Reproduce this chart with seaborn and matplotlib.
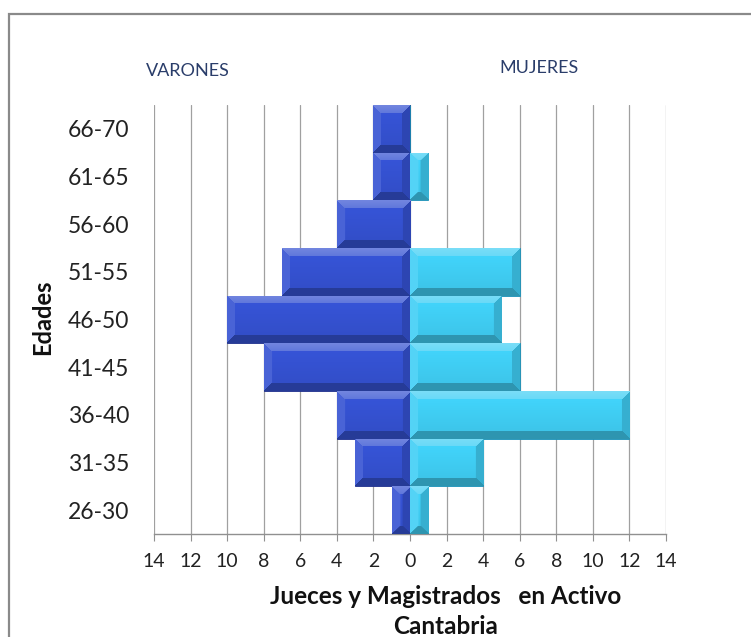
import numpy as np
import pandas as pd
import matplotlib
matplotlib.use("Agg")

import matplotlib.pyplot as plt
import seaborn as sns
from matplotlib.colors import to_rgb
from matplotlib.patches import Rectangle

# Data
edades = ["66-70", "61-65", "56-60", "51-55", "46-50", "41-45", "36-40", "31-35", "26-30"]
varones = [2, 2, 4, 7, 10, 8, 4, 3, 1]
mujeres = [0, 1, 0, 6, 5, 6, 12, 4, 1]
ticks = list(range(-14, 15, 2))

df = pd.DataFrame({"edad": edades, "varones": varones, "mujeres": mujeres})
df["varones_neg"] = -df["varones"]

sns.set_theme(style="white")
plt.rcParams["font.family"] = ["Lato", "DejaVu Sans"]

fig = plt.figure(figsize=(7.51, 6.37), dpi=100)
ax = fig.add_axes([154 / 751, 1 - 534 / 637, 512 / 751, 429 / 637])

sns.barplot(data=df, x="varones_neg", y="edad", orient="h", width=1.0, saturation=1,
            color="#3552d2", edgecolor="#1e2f88", linewidth=0.6, ax=ax, zorder=3)
sns.barplot(data=df, x="mujeres", y="edad", orient="h", width=1.0, saturation=1,
            color="#40cff5", edgecolor="#1a8db3", linewidth=0.6, ax=ax, zorder=3)


def bevel(color, wpx, hpx, b=8):
    base = np.array(to_rgb(color))
    light = base + (1 - base) * 0.30
    dark = base * 0.72
    yy, xx = np.mgrid[0:hpx, 0:wpx]
    img = np.tile(base, (hpx, wpx, 1))
    # soft vertical shading in the face
    shade = 1.04 - 0.10 * (yy / max(hpx - 1, 1))
    img = img * shade[..., None]
    dt, db, dl, dr = yy, hpx - 1 - yy, xx, wpx - 1 - xx
    top = (dt < b) & (dt <= dl) & (dt <= dr)
    bot = (db < b) & (db <= dl) & (db <= dr)
    left = (dl < b) & ~top & ~bot & (dl <= dr)
    right = (dr < b) & ~top & ~bot & (dr < dl)
    tfrac = (dt / b)[..., None]
    img = np.where(top[..., None], light * (1 - 0.3 * tfrac) + base * 0.3 * tfrac, img)
    img = np.where(bot[..., None], dark, img)
    img[left] = base + (1 - base) * 0.10
    img[right] = base * 0.85
    return np.clip(img, 0, 1)


px_per_unit = 512 / 28
for p in list(ax.patches):
    w = p.get_width()
    if w == 0:
        continue
    x0 = p.get_x()
    y0 = p.get_y()
    h = p.get_height()
    col = p.get_facecolor()[:3]
    wpx = max(int(round(abs(w) * px_per_unit)), 2)
    hpx = int(round(h * 429 / 9))
    img = bevel(col, wpx, hpx)
    xl, xr = min(x0, x0 + w), max(x0, x0 + w)
    im = ax.imshow(img, extent=(xl, xr, y0 + h, y0), aspect="auto",
                   interpolation="bilinear", zorder=3.5)
    im.set_clip_path(p)

ax.set_xlim(-14, 14)
ax.set_ylim(8.5, -0.5)

ax.set_xticks(ticks)
ax.set_xticklabels([str(abs(t)) for t in ticks], fontsize=14, color="#222222")
ax.tick_params(axis="x", length=5, width=0.8, color="#909090", direction="out", pad=9, bottom=True)
ax.tick_params(axis="y", length=0, labelsize=16.5, pad=18, labelcolor="#222222")

for t in ticks:
    ax.axvline(t, color="#a0a0a0", lw=0.9, zorder=1)

for s in ["top", "right", "left"]:
    ax.spines[s].set_visible(False)
ax.spines["bottom"].set_color("#909090")
ax.spines["bottom"].set_linewidth(1.0)

ax.set_xlabel("")
ax.set_ylabel("")

fig.text(43 / 751, 1 - 317 / 637, "Edades", rotation=90, ha="center", va="center",
         fontsize=17, fontweight="bold", color="#111111")

fig.text(446 / 751, 1 - 597 / 637, "Jueces y Magistrados   en Activo",
         ha="center", va="center", fontsize=17.5, fontweight="bold", color="#111111")
fig.text(446 / 751, 1 - 627 / 637, "Cantabria",
         ha="center", va="center", fontsize=17.5, fontweight="bold", color="#111111")

fig.text(188 / 751, 1 - 71 / 637, "VARONES", ha="center", va="center",
         fontsize=13, color="#2a3d6a")
fig.text(539 / 751, 1 - 68 / 637, "MUJERES", ha="center", va="center",
         fontsize=13, color="#2a3d6a")

# chart border
fig.patches.append(Rectangle((9 / 751, -0.1), 1.1, 1 - 14 / 637 + 0.1,
                             transform=fig.transFigure, fill=False,
                             edgecolor="#8a8a8a", lw=1.6, zorder=0))

plt.savefig("out.png", dpi=100)
